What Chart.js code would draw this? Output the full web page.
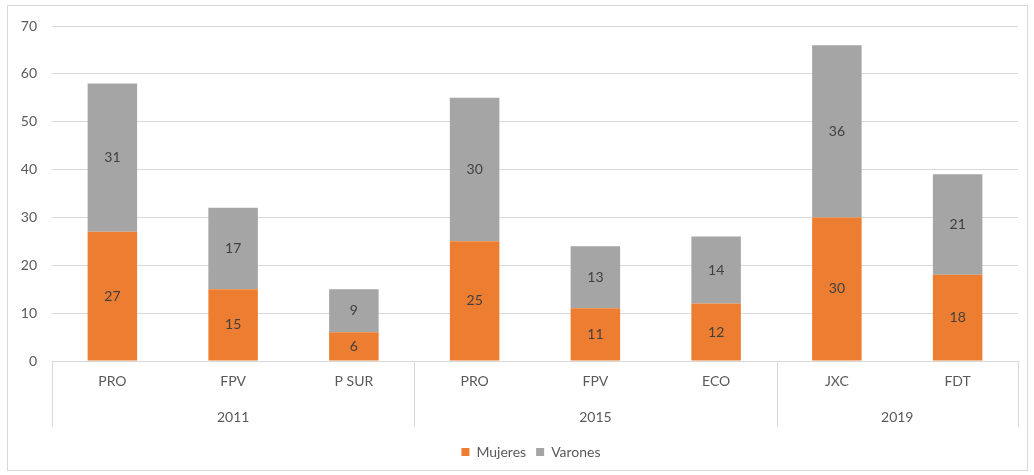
<!DOCTYPE html>
<html>
<head>
<meta charset="utf-8">
<script src="https://cdn.jsdelivr.net/npm/chart.js@4"></script>
<style>
  html, body { margin: 0; padding: 0; background: #ffffff; }
  #wrap { position: absolute; left: 0; top: 0; width: 1034px; height: 475px; }
</style>
</head>
<body>
<div id="wrap"><canvas id="c" width="1034" height="475"></canvas></div>
<script>
const categories = ['PRO', 'FPV', 'P SUR', 'PRO', 'FPV', 'ECO', 'JXC', 'FDT'];
const years = ['2011', '2015', '2019'];
const groupSizes = [3, 3, 2];
const mujeres = [27, 15, 6, 25, 11, 12, 30, 18];
const varones = [31, 17, 9, 30, 13, 14, 36, 21];
const yTicks = [0, 10, 20, 30, 40, 50, 60, 70];

const FONT = 'Lato, "Open Sans", sans-serif';
const TXT = '#595959';
const GRID = '#d9d9d9';

const framePlugin = {
  id: 'frame',
  beforeDraw(chart) {
    const ctx = chart.ctx;
    ctx.save();
    ctx.strokeStyle = '#d9d9d9';
    ctx.lineWidth = 1;
    ctx.strokeRect(7.5, 5.5, 1020, 465);
    ctx.restore();
  }
};

const legendShiftPlugin = {
  id: 'legendShift',
  afterLayout(chart) {
    if (chart.legend) {
      chart.legend.left += 22;
      chart.legend.right += 22;
    }
  }
};

const groupAxisPlugin = {
  id: 'groupAxis',
  afterDraw(chart) {
    const ctx = chart.ctx;
    const x = chart.scales.x;
    const area = chart.chartArea;
    const top = area.bottom;
    const bottom = area.bottom + 66;
    ctx.save();
    ctx.strokeStyle = GRID;
    ctx.lineWidth = 1;
    let start = 0;
    const boundaries = [x.left];
    groupSizes.forEach((n) => {
      const end = start + n - 1;
      const rightEdge = end === categories.length - 1 ? x.right :
        (x.getPixelForTick(end) + x.getPixelForTick(end + 1)) / 2;
      boundaries.push(rightEdge);
      start += n;
    });
    boundaries.forEach((bx) => {
      const px = Math.round(bx) + 0.5;
      ctx.beginPath();
      ctx.moveTo(px, top);
      ctx.lineTo(px, bottom);
      ctx.stroke();
    });
    ctx.fillStyle = TXT;
    ctx.font = '14px ' + FONT;
    ctx.textAlign = 'center';
    ctx.textBaseline = 'middle';
    years.forEach((yr, i) => {
      ctx.fillText(yr, (boundaries[i] + boundaries[i + 1]) / 2, area.bottom + 56);
    });
    ctx.restore();
  }
};

const valueLabelPlugin = {
  id: 'valueLabels',
  afterDatasetsDraw(chart) {
    const ctx = chart.ctx;
    ctx.save();
    ctx.font = '14px ' + FONT;
    ctx.textAlign = 'center';
    ctx.textBaseline = 'middle';
    chart.data.datasets.forEach((ds, di) => {
      const meta = chart.getDatasetMeta(di);
      meta.data.forEach((bar, i) => {
        const yc = (bar.y + bar.base) / 2;
        ctx.fillStyle = '#404040';
        ctx.fillText(String(ds.data[i]), bar.x, yc);
      });
    });
    ctx.restore();
  }
};

new Chart(document.getElementById('c'), {
  type: 'bar',
  data: {
    labels: categories,
    datasets: [
      { label: 'Mujeres', data: mujeres, backgroundColor: '#ED7D31', borderWidth: 0 },
      { label: 'Varones', data: varones, backgroundColor: '#A5A5A5', borderWidth: 0 }
    ]
  },
  options: {
    responsive: false,
    animation: false,
    devicePixelRatio: 1,
    layout: { padding: { top: 26, right: 16, left: 0, bottom: 6 } },
    datasets: { bar: { categoryPercentage: 1.0, barPercentage: 0.41 } },
    scales: {
      x: {
        stacked: true,
        grid: { display: false, drawTicks: false },
        border: { display: true, color: GRID, width: 1 },
        ticks: { color: TXT, font: { family: FONT, size: 14 }, padding: 12, maxRotation: 0, autoSkip: false },
        afterFit(scale) { scale.height = 74; }
      },
      y: {
        stacked: true,
        min: 0,
        max: 70,
        afterBuildTicks(scale) { scale.ticks = yTicks.map(v => ({ value: v })); },
        grid: { color: GRID, drawTicks: false },
        border: { display: false },
        ticks: { color: TXT, font: { family: FONT, size: 14 }, padding: 15 },
        afterFit(scale) { scale.width = 52; }
      }
    },
    plugins: {
      legend: {
        position: 'bottom',
        labels: {
          color: TXT,
          font: { family: FONT, size: 14 },
          boxWidth: 8,
          boxHeight: 8,
          padding: 10
        }
      },
      tooltip: { enabled: false }
    }
  },
  plugins: [framePlugin, legendShiftPlugin, groupAxisPlugin, valueLabelPlugin]
});
</script>
</body>
</html>
